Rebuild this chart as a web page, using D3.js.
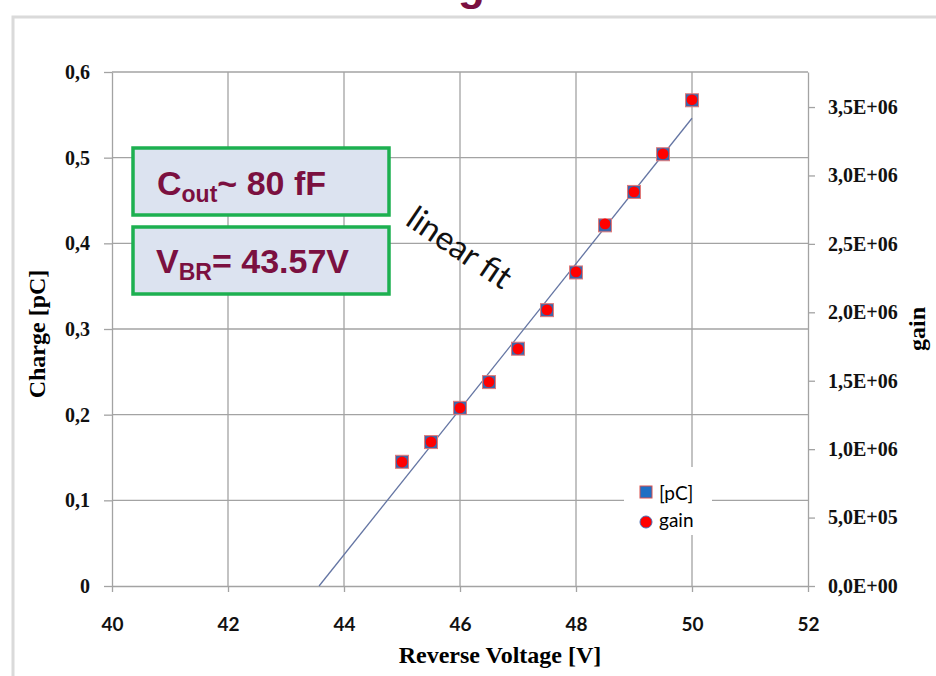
<!DOCTYPE html>
<html lang='en'>

<head>
	<meta charset='UTF-8'/>
	<title>D3: Charge and gain vs reverse voltage</title>
	<script src='https://cdnjs.cloudflare.com/ajax/libs/d3/7.8.5/d3.min.js'></script>
	<style>
		body {margin: 0; background: #fff;}
		svg {display: block;}
		.serif {font-family: 'Liberation Serif', 'Times New Roman', serif; font-weight: bold;}
		.sans {font-family: Lato, 'Open Sans', sans-serif;}
	</style>
</head>

<body>
	<div class='graph'></div>
	<script>
		// data
		const voltage = [45, 45.5, 46, 46.5, 47, 47.5, 48, 48.5, 49, 49.5, 50];
		const charge = [0.145, 0.168, 0.208, 0.238, 0.277, 0.322, 0.366, 0.421, 0.460, 0.504, 0.567];
		const gain = [9.06e5, 1.053e6, 1.301e6, 1.491e6, 1.732e6, 2.018e6, 2.295e6, 2.646e6, 2.880e6, 3.158e6, 3.553e6];
		const fitVoltage = [43.57, 50];
		const fitCharge = [0, 0.546];

		const xTicks = [40, 42, 44, 46, 48, 50, 52];
		const chargeTicks = [0, 0.1, 0.2, 0.3, 0.4, 0.5, 0.6];
		const gainTicks = [0, 5e5, 1e6, 1.5e6, 2e6, 2.5e6, 3e6, 3.5e6];

		var width = 936;
		var height = 676;
		margin = ({top: 72, right: 128, bottom: 90, left: 112});

		var svg = d3
			.select('.graph')
			.append('svg')
			.attr('width', width)
			.attr('height', height);

		const X_SCALE = d3.scaleLinear()
			.domain([40, 52])
			.range([margin.left, width - margin.right]);
		const Y_SCALE = d3.scaleLinear()
			.domain([0, 0.6])
			.range([height - margin.bottom, margin.top]);
		const G_SCALE = d3.scaleLinear()
			.domain([0, 3.756e6])
			.range([height - margin.bottom, margin.top]);

		const gridColor = '#a3a3a3';

		// slide frame
		svg.append('path')
			.attr('d', 'M13,' + height + 'V17H' + width)
			.attr('fill', 'none')
			.attr('stroke', '#dadada')
			.attr('stroke-width', 3);

		// slide title, cut off by the top edge as in the picture
		svg.append('text')
			.text('gain')
			.attr('x', 458)
			.attr('y', 0)
			.style('font-family', "'Liberation Sans', Arial, sans-serif")
			.style('font-weight', 'bold')
			.style('font-size', '44px')
			.attr('fill', '#7b1040');

		// grid
		svg.append('g')
			.selectAll('line')
			.data(xTicks.slice(1, -1))
			.enter()
			.append('line')
			.attr('x1', d => X_SCALE(d))
			.attr('x2', d => X_SCALE(d))
			.attr('y1', Y_SCALE(0))
			.attr('y2', Y_SCALE(0.6))
			.attr('stroke', gridColor)
			.attr('stroke-width', 1.3);
		svg.append('g')
			.selectAll('line')
			.data(chargeTicks.slice(1))
			.enter()
			.append('line')
			.attr('x1', X_SCALE(40))
			.attr('x2', X_SCALE(52))
			.attr('y1', d => Y_SCALE(d))
			.attr('y2', d => Y_SCALE(d))
			.attr('stroke', gridColor)
			.attr('stroke-width', 1.3);

		// axes
		const commaFmt = d => d === 0 ? '0' : d3.format('.1f')(d).replace('.', ',');
		const expFmt = d => d.toExponential(1).replace('.', ',')
			.replace(/e([+-])(\d+)$/, (m, s, e) => 'E' + s + (e.length < 2 ? '0' + e : e));

		function styleAxis(g, cls, size) {
			g.selectAll('path, line').attr('stroke', gridColor).attr('stroke-width', 1.3);
			g.selectAll('text')
				.attr('class', cls)
				.attr('fill', '#111')
				.style('font-size', size);
		}

		svg.append('g')
			.attr('transform', 'translate(0,' + Y_SCALE(0) + ')')
			.call(d3.axisBottom(X_SCALE).tickValues(xTicks).tickSize(6).tickSizeOuter(0).tickPadding(26))
			.call(g => styleAxis(g, 'sans', '19px'))
			.call(g => g.selectAll('text').style('font-weight', 'bold'));

		svg.append('g')
			.attr('transform', 'translate(' + X_SCALE(40) + ',0)')
			.call(d3.axisLeft(Y_SCALE).tickValues(chargeTicks).tickFormat(commaFmt).tickSize(8).tickSizeOuter(0).tickPadding(14))
			.call(g => styleAxis(g, 'serif', '20px'));

		svg.append('g')
			.attr('transform', 'translate(' + X_SCALE(52) + ',0)')
			.call(d3.axisRight(G_SCALE).tickValues(gainTicks).tickFormat(expFmt).tickSize(7).tickSizeOuter(0).tickPadding(13))
			.call(g => styleAxis(g, 'serif', '20px'));

		// axis titles
		svg.append('text')
			.text('Reverse Voltage [V]')
			.attr('class', 'serif')
			.attr('text-anchor', 'middle')
			.attr('x', 500)
			.attr('y', 663)
			.style('font-size', '24px');
		svg.append('text')
			.text('Charge [pC]')
			.attr('class', 'serif')
			.attr('text-anchor', 'middle')
			.attr('transform', 'translate(45,334) rotate(-90)')
			.style('font-size', '24px');
		svg.append('text')
			.text('gain')
			.attr('class', 'serif')
			.attr('text-anchor', 'middle')
			.attr('transform', 'translate(925,329) rotate(-90)')
			.style('font-size', '24px');

		// linear fit
		svg.append('line')
			.attr('x1', X_SCALE(fitVoltage[0]))
			.attr('y1', Y_SCALE(fitCharge[0]))
			.attr('x2', X_SCALE(fitVoltage[1]))
			.attr('y2', Y_SCALE(fitCharge[1]))
			.attr('stroke', '#6475a3')
			.attr('stroke-width', 1.3);

		// [pC] squares, gain circles on top
		svg.append('g')
			.selectAll('rect')
			.data(charge)
			.enter()
			.append('rect')
			.attr('x', (d, i) => X_SCALE(voltage[i]) - 6.5)
			.attr('y', d => Y_SCALE(d) - 6.5)
			.attr('width', 13)
			.attr('height', 13)
			.attr('fill', '#3f65a8')
			.attr('stroke', '#e07a7a')
			.attr('stroke-width', 1);
		svg.append('g')
			.selectAll('circle')
			.data(gain)
			.enter()
			.append('circle')
			.attr('cx', (d, i) => X_SCALE(voltage[i]))
			.attr('cy', d => G_SCALE(d))
			.attr('r', 5.4)
			.attr('fill', '#ff0000');

		// legend
		let legend = svg.append('g');
		legend.append('rect')
			.attr('x', 624).attr('y', 467)
			.attr('width', 88).attr('height', 68)
			.attr('fill', '#fff');
		legend.append('rect')
			.attr('x', 640).attr('y', 486)
			.attr('width', 12).attr('height', 12)
			.attr('fill', '#1f6fc4')
			.attr('stroke', '#d9534f')
			.attr('stroke-width', 1);
		legend.append('circle')
			.attr('cx', 646).attr('cy', 522).attr('r', 6)
			.attr('fill', '#ff0000')
			.attr('stroke', '#4a6fb5')
			.attr('stroke-width', 1);
		legend.append('text').text('[pC]')
			.attr('class', 'sans').attr('x', 659).attr('y', 500)
			.style('font-size', '19px');
		legend.append('text').text('gain')
			.attr('class', 'sans').attr('x', 659).attr('y', 527)
			.style('font-size', '19px');

		// annotation boxes
		const boxText = '#7b1040';
		const boxFont = "'Liberation Sans', Arial, sans-serif";
		[148, 227].forEach(y0 => {
			svg.append('rect')
				.attr('x', 133).attr('y', y0)
				.attr('width', 256).attr('height', 67)
				.attr('fill', '#dce3f0')
				.attr('stroke', '#1db050')
				.attr('stroke-width', 3.5);
		});

		let t1 = svg.append('text')
			.attr('x', 157).attr('y', 195)
			.attr('fill', boxText)
			.style('font-family', boxFont)
			.style('font-weight', 'bold')
			.style('font-size', '34px');
		t1.append('tspan').text('C');
		t1.append('tspan').text('out').attr('dy', 7).style('font-size', '23px');
		t1.append('tspan').text('~ 80 fF').attr('dy', -7);

		let t2 = svg.append('text')
			.attr('x', 156).attr('y', 273)
			.attr('fill', boxText)
			.style('font-family', boxFont)
			.style('font-weight', 'bold')
			.style('font-size', '34px');
		t2.append('tspan').text('V');
		t2.append('tspan').text('BR').attr('dy', 7).style('font-size', '23px');
		t2.append('tspan').text('= 43.57V').attr('dy', -7);

		svg.append('text')
			.text('linear fit')
			.attr('class', 'sans')
			.attr('transform', 'translate(404,224) rotate(34)')
			.attr('fill', '#111')
			.style('font-size', '33px');
	</script>
</body>

</html>
